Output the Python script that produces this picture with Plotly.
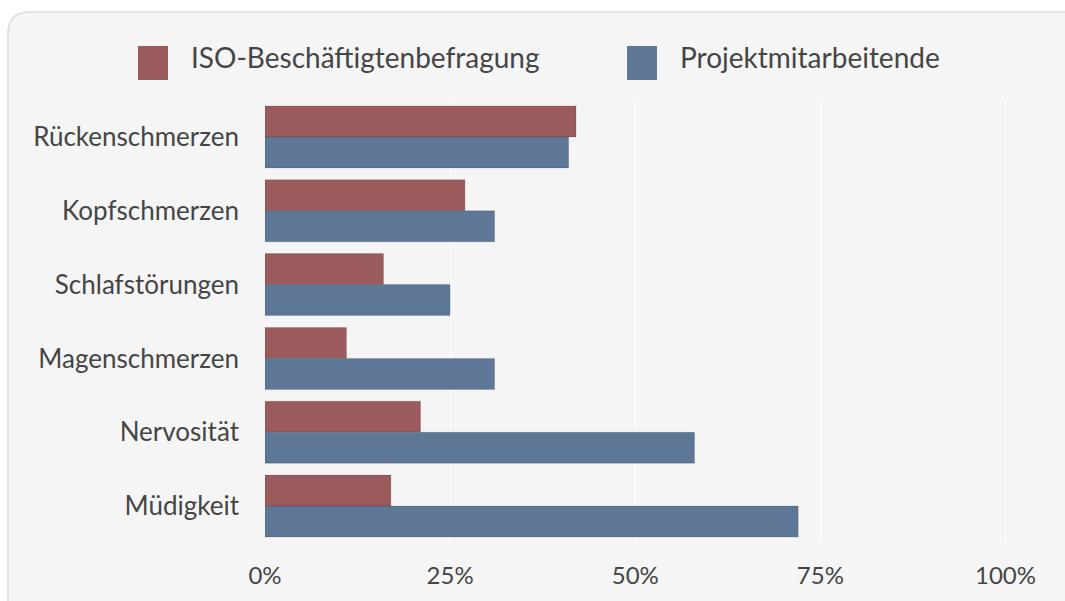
import plotly.graph_objects as go

categories = ["Rückenschmerzen", "Kopfschmerzen", "Schlafstörungen", "Magenschmerzen", "Nervosität", "Müdigkeit"]
iso_values = [42, 27, 16, 11, 21, 17]
projekt_values = [41, 31, 25, 31, 58, 72]
series_names = ["ISO-Beschäftigtenbefragung", "Projektmitarbeitende"]
series_colors = ["#9b5a5c", "#5e7796"]
tick_values = [0, 25, 50, 75, 100]
tick_labels = ["0%", "25%", "50%", "75%", "100%"]

W, H = 1065, 601
L, R, T, B = 265, 58, 100, 58
pw, ph = W - L - R, H - T - B

def px(x):
    return (x - L) / pw

def py(y):
    return (H - B - y) / ph

FONT = "Lato, 'Open Sans', sans-serif"
TXT = "#454545"

fig = go.Figure()
for name, vals, col in zip(series_names, [iso_values, projekt_values], series_colors):
    fig.add_trace(go.Bar(
        y=categories, x=vals, name=name, orientation="h",
        marker=dict(color=col, line=dict(color="rgba(0,0,0,0.12)", width=1)),
        showlegend=False,
    ))

# background panel with rounded corner
x0, y0, x1, y1, r = px(8), py(12), px(1100), py(640), 22 / pw
ry = 22 / ph
path = (f"M {x0},{y1} L {x0},{y0 - ry} Q {x0},{y0} {x0 + r},{y0} "
        f"L {x1},{y0} L {x1},{y1} Z")
shapes = [dict(type="path", path=path, xref="paper", yref="paper",
               fillcolor="#f5f5f5", line=dict(color="#e2e2e2", width=2), layer="below")]

# legend drawn manually
legend_items = [(138, 168, 192), (627, 657, 681)]
annotations = []
for (sx0, sx1, tx), name, col in zip(legend_items, series_names, series_colors):
    shapes.append(dict(type="rect", xref="paper", yref="paper",
                       x0=px(sx0), x1=px(sx1), y0=py(80), y1=py(46),
                       fillcolor=col, line=dict(width=0)))
    annotations.append(dict(x=px(tx - 3), y=py(57), xref="paper", yref="paper",
                            text=name, showarrow=False, xanchor="left", yanchor="middle",
                            font=dict(family=FONT, size=28, color=TXT)))

fig.update_layout(
    width=W, height=H,
    margin=dict(l=L, r=R, t=T, b=B, pad=0),
    paper_bgcolor="white", plot_bgcolor="rgba(0,0,0,0)",
    barmode="group", bargap=0.16, bargroupgap=0,
    shapes=shapes, annotations=annotations,
    font=dict(family=FONT, color=TXT),
    xaxis=dict(range=[0, 100.2], tickvals=tick_values, ticktext=tick_labels,
               showgrid=True, gridcolor="#ffffff", gridwidth=1, zeroline=False,
               showline=False, ticks="", tickfont=dict(size=24, color=TXT), ticklabelstandoff=16),
    yaxis=dict(categoryorder="array", categoryarray=categories, autorange="reversed",
               showgrid=False, zeroline=False, showline=False, ticks="",
               tickfont=dict(size=26, color=TXT), ticklabelstandoff=25),
)

fig.write_html("out.html", config={"displayModeBar": False})
with open("out.html", encoding="utf-8") as f:
    html = f.read()
html = html.replace("<head>", "<head><style>html,body{margin:0;padding:0;overflow:hidden;}</style>", 1)
with open("out.html", "w", encoding="utf-8") as f:
    f.write(html)
